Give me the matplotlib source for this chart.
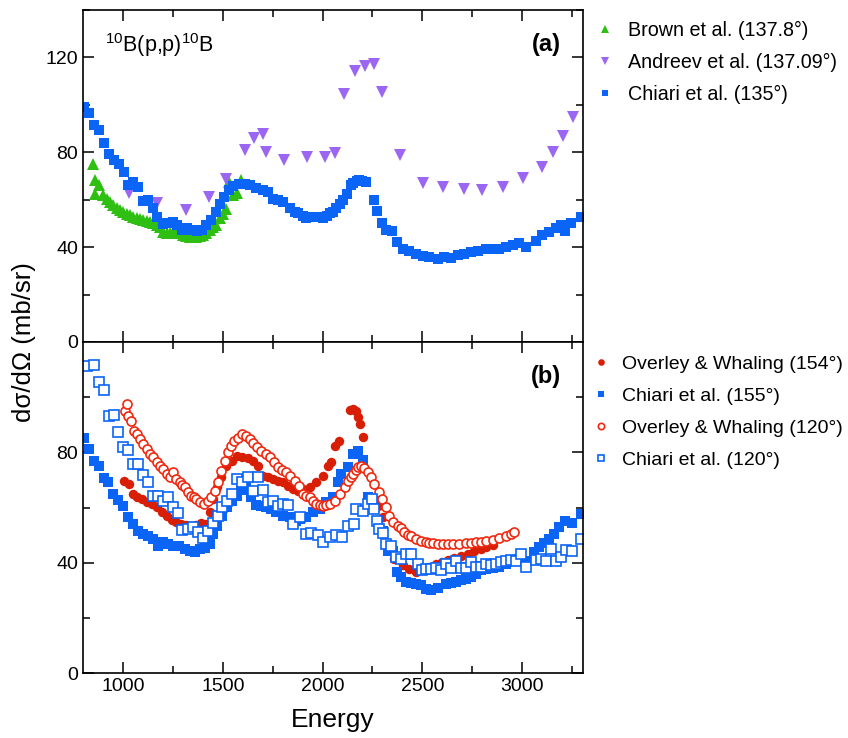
import matplotlib.pyplot as plt

plt.rcParams['font.family'] = ['Liberation Sans', 'DejaVu Sans']
plt.rcParams['mathtext.fontset'] = 'custom'
plt.rcParams['mathtext.rm'] = 'Liberation Sans'

# ---- panel (a) ----
brown_e = [848, 858, 862, 881, 902, 918, 935, 952, 968, 985, 1002, 1018, 1035, 1052, 1068, 1085,
           1102, 1118, 1135, 1152, 1168, 1185, 1202, 1218, 1235, 1252, 1268, 1285, 1302, 1318, 1335,
           1352, 1368, 1385, 1402, 1418, 1435, 1452, 1468, 1485, 1502, 1518, 1532, 1552, 1572, 1593]
brown_y = [74.9, 62.3, 68.5, 66.1, 61.9, 60.5, 59.1, 57.7, 56.3, 55.5, 54.6, 53.9, 53.4, 52.8, 52.1, 51.8,
           51.6, 51.1, 50.6, 50.2, 49.5, 48.5, 46.5, 45.8, 46.0, 46.4, 46.4, 45.8, 45.1, 44.8, 44.4,
           44.4, 44.2, 44.5, 45.3, 46.0, 47.2, 48.3, 49.3, 52.1, 54.0, 56.0, 67.5, 62.0, 62.9, 68.2]

andreev_e = [1032, 1168, 1318, 1432, 1515, 1611, 1655, 1701, 1715, 1808, 1923, 2013, 2061, 2106, 2163,
             2211, 2256, 2300, 2386, 2505, 2603, 2707, 2798, 2903, 3003, 3098, 3157, 3203, 3255]
andreev_y = [62.9, 58.8, 55.6, 61.2, 68.9, 81.1, 86.0, 87.6, 80.3, 76.8, 77.8, 77.9, 79.7, 104.4, 114.2,
             116.5, 117.3, 105.4, 78.7, 67.1, 65.4, 64.4, 64.0, 65.4, 69.3, 73.6, 79.9, 86.9, 94.7]

c135_e = [802, 832, 857, 880, 907, 930, 957, 982, 1005, 1027, 1052, 1077, 1098, 1127, 1152, 1172,
          1198, 1222, 1248, 1273, 1298, 1323, 1348, 1373, 1398, 1418, 1440, 1465, 1485, 1505, 1530,
          1552, 1582, 1610, 1638, 1668, 1702, 1727, 1752, 1777, 1802, 1835, 1860, 1877, 1900, 1918,
          1940, 1960, 1980, 2002, 2020, 2035, 2052, 2068, 2085, 2102, 2122, 2140, 2152, 2170, 2185,
          2200, 2218, 2257, 2272, 2298, 2318, 2347, 2372, 2402, 2435, 2468, 2502, 2532, 2577, 2610,
          2643, 2677, 2710, 2743, 2777, 2818, 2852, 2885, 2918, 2952, 2985, 3018, 3068, 3102, 3135,
          3168, 3193, 3215, 3243, 3293]
c135_y = [99.1, 96.5, 91.4, 89.3, 83.9, 79.2, 76.9, 74.9, 71.7, 66.1, 67.5, 65.4, 59.5, 59.8, 56.3, 52.8,
          49.7, 50.2, 50.7, 49.3, 47.2, 47.9, 47.2, 46.9, 47.4, 49.3, 51.4, 54.9, 58.1, 61.2, 64.0,
          65.7, 66.5, 66.8, 66.1, 65.1, 64.0, 63.3, 60.5, 59.8, 59.1, 56.3, 54.9, 54.2, 53.0, 52.3,
          52.5, 52.8, 52.5, 52.1, 53.2, 54.2, 55.0, 56.3, 58.0, 59.8, 62.6, 66.0, 67.1, 67.8, 68.2,
          68.0, 67.5, 59.8, 55.3, 50.2, 47.2, 46.9, 42.2, 39.4, 38.4, 37.3, 36.2, 35.9, 35.2, 35.9,
          35.6, 36.6, 37.3, 38.0, 38.4, 39.0, 39.0, 39.4, 40.1, 40.8, 41.6, 40.1, 42.7, 45.1, 46.4,
          47.9, 49.3, 46.9, 50.0, 52.8]

# ---- panel (b) ----
ow154_e = [1005, 1032, 1048, 1068, 1093, 1118, 1143, 1168, 1193, 1218, 1243, 1268, 1293, 1318, 1343,
           1368, 1393, 1418, 1435, 1452, 1473, 1493, 1518, 1547, 1573, 1598, 1627, 1652, 1677, 1702,
           1727, 1752, 1777, 1802, 1827, 1852, 1877, 1902, 1935, 1968, 2002, 2027, 2043, 2060, 2080,
           2135, 2150, 2165, 2177, 2188, 2205, 2277, 2302, 2318, 2360, 2402, 2435, 2468, 2502, 2535,
           2568, 2600, 2627, 2660, 2693, 2727, 2760, 2793, 2818, 2852]
ow154_y = [69.8, 68.6, 65.0, 63.8, 63.2, 61.9, 61.4, 60.1, 58.3, 57.1, 55.6, 54.7, 54.2, 53.9, 53.5,
           53.9, 54.4, 54.2, 58.3, 63.2, 67.4, 71.0, 75.2, 77.0, 78.8, 78.4, 78.0, 77.0, 75.2, 71.6,
           71.0, 70.4, 69.8, 69.2, 68.0, 66.8, 65.9, 66.8, 67.4, 69.2, 71.6, 75.2, 76.4, 82.4, 84.2,
           95.4, 95.7, 95.0, 92.9, 90.3, 85.7, 60.8, 56.5, 46.3, 41.5, 39.1, 37.9, 36.7, 37.3, 38.5,
           39.5, 40.5, 41.2, 41.8, 42.5, 43.3, 44.2, 45.1, 45.7, 46.5]

c155_e = [805, 832, 857, 882, 905, 927, 952, 977, 1002, 1027, 1048, 1073, 1098, 1123, 1148, 1177,
          1202, 1227, 1252, 1282, 1310, 1335, 1360, 1385, 1410, 1435, 1452, 1473, 1498, 1523, 1547,
          1572, 1593, 1618, 1640, 1665, 1690, 1718, 1743, 1768, 1802, 1835, 1868, 1885, 1918, 1952,
          1985, 2018, 2052, 2077, 2093, 2127, 2152, 2177, 2202, 2227, 2243, 2257, 2277, 2302, 2327,
          2352, 2372, 2393, 2418, 2443, 2468, 2493, 2518, 2543, 2577, 2618, 2643, 2668, 2693, 2718,
          2743, 2768, 2793, 2818, 2852, 2885, 2918, 2952, 2985, 3018, 3060, 3085, 3110, 3135, 3160,
          3185, 3215, 3248, 3293]
c155_y = [85.2, 81.2, 76.8, 75.2, 70.6, 69.2, 65.0, 62.8, 60.8, 56.5, 54.1, 51.7, 50.5, 49.6, 48.7, 46.3,
          47.5, 46.9, 46.3, 46.3, 45.1, 44.3, 43.9, 45.1, 45.5, 46.9, 50.5, 53.5, 57.1, 60.1, 62.6,
          64.4, 66.4, 67.4, 63.8, 61.1, 60.8, 60.1, 59.6, 58.4, 57.1, 56.5, 55.3, 56.0, 56.8, 58.3,
          59.6, 62.0, 63.8, 69.2, 72.2, 74.6, 79.6, 80.6, 77.3, 63.8, 62.6, 60.8, 54.7, 51.7, 44.5,
          44.5, 36.7, 34.9, 33.1, 32.7, 32.5, 31.9, 30.7, 30.1, 31.0, 32.5, 32.9, 33.1, 33.7, 34.3,
          35.1, 36.1, 37.3, 37.9, 38.3, 38.7, 39.7, 40.9, 41.5, 40.9, 43.9, 45.7, 47.1, 48.7, 50.5,
          52.9, 55.3, 54.4, 57.8]

ow120_e = [1010, 1022, 1027, 1040, 1057, 1068, 1085, 1102, 1118, 1135, 1152, 1168, 1185, 1202, 1218,
           1235, 1252, 1268, 1285, 1298, 1310, 1327, 1343, 1355, 1368, 1385, 1405, 1427, 1443, 1460,
           1477, 1493, 1510, 1527, 1540, 1557, 1577, 1598, 1618, 1635, 1652, 1673, 1693, 1715, 1735,
           1757, 1777, 1798, 1818, 1838, 1860, 1882, 1902, 1918, 1935, 1952, 1968, 1985, 2002, 2018,
           2035, 2060, 2085, 2110, 2127, 2140, 2152, 2165, 2177, 2193, 2210, 2227, 2243, 2260, 2282,
           2298, 2318, 2335, 2352, 2377, 2393, 2410, 2427, 2443, 2468, 2493, 2518, 2535, 2552, 2577,
           2602, 2627, 2652, 2685, 2718, 2743, 2768, 2793, 2818, 2852, 2885, 2918, 2943, 2960]
ow120_y = [95.1, 97.7, 93.2, 91.4, 87.8, 86.6, 84.8, 83.0, 81.2, 79.4, 78.2, 76.4, 75.2, 74.0, 72.2,
           71.0, 72.8, 70.4, 69.2, 68.2, 67.4, 65.6, 64.4, 63.8, 63.2, 61.9, 61.4, 62.6, 63.8, 66.2,
           69.2, 73.4, 77.0, 80.0, 82.4, 84.2, 85.4, 86.6, 86.0, 84.8, 83.6, 82.1, 80.6, 79.4, 78.2,
           76.4, 74.6, 73.6, 72.8, 71.6, 69.8, 68.0, 65.0, 64.4, 63.8, 62.5, 61.4, 61.0, 60.8, 61.0,
           61.4, 62.6, 65.0, 67.4, 69.8, 71.0, 72.2, 73.5, 74.6, 75.2, 74.4, 72.8, 71.0, 68.6, 65.6,
           63.2, 60.1, 57.1, 54.7, 53.5, 52.5, 51.2, 50.3, 49.6, 48.7, 48.1, 47.5, 47.3, 47.2, 47.0,
           46.9, 46.9, 46.9, 47.0, 47.2, 47.4, 47.5, 47.7, 47.9, 48.4, 49.1, 49.9, 50.5, 51.4]

c120_e = [822, 857, 880, 905, 930, 955, 977, 1002, 1027, 1048, 1073, 1102, 1127, 1148, 1177, 1202,
          1227, 1248, 1277, 1298, 1327, 1352, 1377, 1402, 1427, 1452, 1477, 1498, 1523, 1547, 1573,
          1598, 1627, 1652, 1677, 1702, 1727, 1752, 1777, 1802, 1827, 1852, 1885, 1918, 1943, 1977,
          2002, 2035, 2068, 2098, 2127, 2155, 2168, 2202, 2227, 2247, 2260, 2272, 2285, 2302, 2318,
          2343, 2368, 2393, 2418, 2443, 2477, 2498, 2518, 2543, 2568, 2593, 2618, 2643, 2668, 2693,
          2718, 2743, 2768, 2793, 2818, 2843, 2868, 2893, 2918, 2943, 2968, 2993, 3018, 3068, 3093,
          3118, 3143, 3168, 3193, 3218, 3248, 3293]
c120_y = [111.3, 111.6, 105.6, 102.6, 93.2, 93.6, 87.5, 82.1, 80.9, 75.8, 76.0, 72.0, 69.2, 64.4, 64.4, 62.6,
          63.8, 60.4, 58.0, 52.0, 52.3, 52.9, 51.1, 49.1, 51.7, 54.4, 57.1, 60.4, 62.6, 65.0, 70.4,
          69.2, 71.0, 66.2, 71.0, 66.4, 62.0, 62.6, 60.8, 61.4, 61.1, 54.2, 56.5, 50.5, 50.8, 50.3,
          47.5, 49.3, 50.3, 49.3, 53.5, 54.2, 59.4, 59.0, 61.4, 63.2, 59.6, 55.3, 52.3, 50.8, 46.9,
          46.0, 42.1, 41.5, 43.3, 43.3, 39.7, 37.3, 37.9, 37.9, 38.3, 37.5, 39.7, 38.3, 40.9, 38.3,
          38.3, 40.3, 38.7, 38.7, 39.7, 39.1, 39.7, 40.3, 40.9, 41.2, 40.9, 43.3, 38.5, 41.2, 41.5,
          40.9, 45.1, 40.7, 42.1, 44.8, 44.3, 48.7]

blue = '#0a64f5'
green = '#2fbf12'
purple = '#9b66f2'
red = '#d81e05'
red_open = '#f0280f'

fig = plt.figure(figsize=(8.48, 7.38), dpi=100)
ax1 = fig.add_axes([0.098, 0.5366, 0.5895, 0.4499])
ax2 = fig.add_axes([0.098, 0.0874, 0.5895, 0.4492], sharex=ax1)

ax1.plot(brown_e, brown_y, '^', color=green, ms=8, mew=0, label='Brown et al. (137.8°)')
ax1.plot(andreev_e, andreev_y, 'v', color=purple, ms=8.3, mew=0, label='Andreev et al. (137.09°)')
ax1.plot(c135_e, c135_y, 's', color=blue, ms=7, mew=0, label='Chiari et al. (135°)')

ax2.plot(ow154_e, ow154_y, 'o', color=red, ms=6.8, mew=0, label='Overley & Whaling (154°)')
ax2.plot(c155_e, c155_y, 's', color=blue, ms=7, mew=0, label='Chiari et al. (155°)')
ax2.plot(ow120_e, ow120_y, 'o', mfc='white', mec=red_open, ms=6.5, mew=1.2, label='Overley & Whaling (120°)')
ax2.plot(c120_e, c120_y, 's', mfc='white', mec=blue, ms=6.5, mew=1.2, label='Chiari et al. (120°)')

ax1.set_ylim(0, 140)
ax2.set_ylim(0, 120)
ax1.set_xlim(800, 3305)
ax1.set_yticks([0, 40, 80, 120])
ax1.set_yticks([20, 60, 100, 140], minor=True)
ax2.set_yticks([0, 40, 80])
ax2.set_yticks([20, 60, 100], minor=True)
ax2.set_xticks([1000, 1500, 2000, 2500, 3000])
ax2.set_xticks([1250, 1750, 2250, 2750, 3250], minor=True)

for ax in (ax1, ax2):
    ax.tick_params(which='both', direction='in', top=True, right=True, labelsize=14, width=1.1)
    ax.tick_params(which='major', length=8)
    ax.tick_params(which='minor', length=5)
    for s in ax.spines.values():
        s.set_linewidth(1.2)
ax1.tick_params(labelbottom=False)

ax1.text(0.044, 0.895, '$^{10}$B(p,p)$^{10}$B', transform=ax1.transAxes, fontsize=15.5, va='center')
ax1.text(0.955, 0.895, '(a)', transform=ax1.transAxes, fontsize=17, fontweight='bold',
         va='center', ha='right')
ax2.text(0.955, 0.895, '(b)', transform=ax2.transAxes, fontsize=17, fontweight='bold',
         va='center', ha='right')

ax1.legend(loc='upper left', bbox_to_anchor=(0.988, 1.02), frameon=False, fontsize=14.2,
           markerscale=0.7, handlelength=1.0, handletextpad=0.7, labelspacing=0.66)
ax2.legend(loc='upper left', bbox_to_anchor=(0.982, 1.012), frameon=False, fontsize=14.0,
           markerscale=0.7, handlelength=1.0, handletextpad=0.55, labelspacing=0.74)

ax2.set_xlabel('Energy', fontsize=19, labelpad=9)
fig.text(0.028, 1 - 342 / 738, 'dσ/dΩ (mb/sr)', rotation=90, fontsize=18.5, va='center', ha='center')

fig.savefig('out.png', dpi=100)
